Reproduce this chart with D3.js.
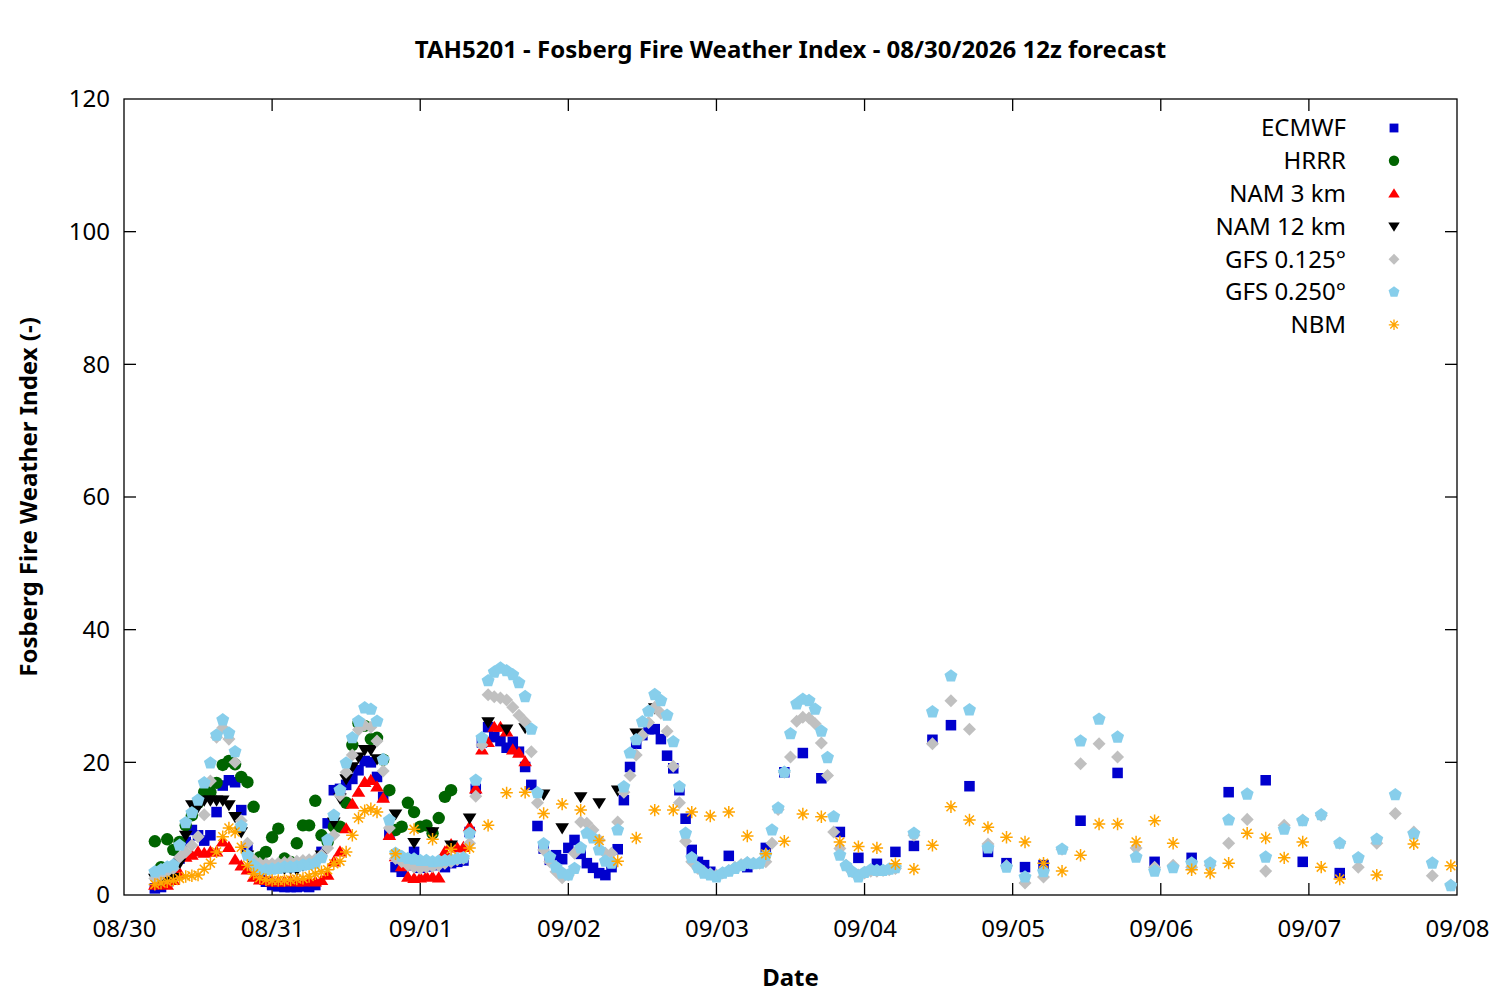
<!DOCTYPE html>
<html><head><meta charset="utf-8">
<script src="https://cdn.jsdelivr.net/npm/d3@7"></script>
<style>
body{margin:0;background:#fff}
text{font-family:"Noto Sans",sans-serif;fill:#000}
</style>
</head><body>
<svg id="chart" width="1500" height="1000"></svg>
<script>
// ---------------- DATA ----------------
const chartTitle = "TAH5201 - Fosberg Fire Weather Index - 08/30/2026 12z forecast";
const xAxisTitle = "Date";
const yAxisTitle = "Fosberg Fire Weather Index (-)";
const yTicks = [0, 20, 40, 60, 80, 100, 120];
const dayTicks = ["08/30","08/31","09/01","09/02","09/03","09/04","09/05","09/06","09/07","09/08"];
const modelNames = ["ECMWF","HRRR","NAM 3 km","NAM 12 km","GFS 0.125°","GFS 0.250°","NBM"];

// forecast valid hours, counted from 08/30 00 (local)
const ecmwfHours = [...d3.range(5, 96), ...d3.range(98, 150, 3), ...d3.range(155, 198, 6)];
const hrrrHours  = d3.range(5, 54);
const nam3Hours  = d3.range(5, 66);
const nam12Hours = [...d3.range(5, 42), ...d3.range(44, 87, 3)];
const gfsHours   = [...d3.range(5, 126), ...d3.range(128, 216, 3)];
const nbmHours   = [...d3.range(5, 42), ...d3.range(44, 198, 3), 203, 209, 215];

const ecmwfValues = [
 1.0,1.2,2.0,3.5,5.5,8.0,9.8,9.0,8.2,9.0,
 12.5,16.5,17.3,17.0,12.8,7.0,5.0,3.0,2.0,1.5,
 1.3,1.2,1.2,1.2,1.3,1.2,1.5,6.5,10.8,15.8,
 16.0,16.6,17.5,18.8,20.2,20.0,17.8,14.8,9.3,4.2,
 3.5,4.5,6.5,4.1,4.3,4.5,4.6,4.2,4.8,5.0,
 5.2,9.5,16.0,23.0,25.3,23.8,23.2,22.2,23.1,21.6,
 19.3,16.6,10.4,7.0,5.3,6.0,5.4,7.1,8.3,6.2,
 4.8,4.1,3.3,3.0,4.2,6.9,14.3,19.3,22.8,24.1,
 25.0,25.0,23.5,21.0,19.1,15.8,11.5,6.8,5.0,4.5,
 3.5,
 5.9,4.2,7.1,18.5,21.4,17.6,9.5,5.6,4.7,6.5,7.4,23.4,25.6,16.4,6.5,4.8,4.2,4.5,
 11.2,18.4,5.0,5.6,15.5,17.3,5.0,3.3
];
const hrrrValues = [
 8.1,4.2,8.4,6.8,8.0,10.5,12.0,13.9,15.5,15.5,
 16.9,19.6,20.2,19.7,17.8,17.0,13.3,5.7,6.5,8.7,
 10.0,5.5,5.0,7.8,10.5,10.5,14.2,9.0,8.0,10.3,
 10.3,13.9,22.6,25.9,25.5,23.5,23.7,20.4,15.8,9.8,
 10.3,13.9,12.5,10.3,10.5,9.3,11.6,14.8,15.8
];
const nam3Values = [
 1.5,1.8,1.5,2.2,3.3,5.7,6.0,6.5,6.3,6.5,
 6.5,8.0,7.2,5.3,4.4,3.8,2.7,2.3,2.2,2.0,
 2.0,2.0,2.1,2.0,2.0,2.2,2.0,2.2,3.0,5.0,
 6.5,10.0,13.7,15.5,17.0,17.3,16.3,14.6,9.0,5.8,
 4.3,2.7,2.5,2.6,2.8,2.7,2.6,6.5,7.6,7.1,
 7.2,10.3,16.0,21.9,23.0,25.3,25.3,24.6,21.9,21.4,
 20.1
];
const nam12Values = [
 2.5,2.2,2.8,2.6,4.8,9.0,13.6,13.3,14.3,14.3,
 14.3,14.3,13.6,11.8,9.5,6.0,4.5,4.4,4.4,4.3,
 4.2,4.0,4.0,3.8,4.5,4.8,5.0,6.0,8.0,11.0,
 14.6,17.5,19.3,20.8,21.9,21.9,20.5,
 12.2,7.9,9.5,7.5,11.6,26.1,25.0,25.2,15.2,10.1,14.8,13.9,15.8,24.4,28.2
];
const gfs0125Values = [
 2.5,3.0,3.5,4.0,5.7,6.5,7.5,8.8,12.1,17.2,
 23.8,25.2,23.5,20.0,11.2,7.8,5.3,4.8,4.7,4.7,
 4.8,4.9,5.0,5.1,5.2,5.3,5.4,6.0,7.1,9.0,
 15.0,18.5,21.1,24.9,25.6,25.3,23.2,18.7,10.1,5.5,
 5.0,4.5,4.2,4.0,4.2,4.3,4.5,4.8,5.0,5.3,
 5.5,7.8,14.9,22.6,30.2,29.9,29.7,29.4,28.3,27.1,
 26.1,21.6,13.9,6.8,5.0,3.5,2.6,3.0,6.3,11.0,
 10.8,9.8,8.3,6.3,6.3,11.0,15.5,18.0,21.1,24.1,
 26.0,28.3,27.4,24.7,19.4,13.9,8.1,5.0,4.0,3.5,
 3.2,3.0,3.3,3.7,4.2,4.6,4.9,4.8,4.8,5.0,
 7.8,12.9,18.5,20.8,26.2,26.8,26.7,25.8,22.9,18.0,
 9.5,7.0,4.5,3.5,3.0,3.3,3.6,3.6,3.7,3.8,
 4.0,
 9.0,22.8,29.3,25.0,7.7,4.4,1.8,2.7,6.9,19.8,
 22.8,20.8,7.1,4.2,4.5,4.2,4.5,7.8,11.4,3.6,
 10.5,11.3,12.0,7.8,4.2,7.8,12.3,9.5,2.9,1.5
];
const gfs0250Values = [
 3.5,3.8,4.2,4.5,7.5,10.9,12.4,14.3,16.9,19.9,
 24.1,26.4,24.4,21.6,10.4,6.0,4.5,3.8,3.8,3.9,
 4.0,4.2,4.2,4.3,4.5,4.6,4.8,5.6,8.3,12.0,
 15.8,19.9,23.7,26.2,28.2,28.0,26.2,20.4,11.3,6.3,
 5.8,5.5,5.4,5.2,5.2,5.0,5.1,5.2,5.3,5.5,
 5.6,9.3,17.3,23.7,32.3,33.6,34.2,33.8,33.2,32.0,
 29.9,25.0,15.4,7.7,5.7,4.2,3.3,3.0,4.0,7.1,
 9.3,8.6,6.8,5.1,4.8,9.8,16.3,21.4,23.4,26.1,
 27.7,30.2,29.3,27.1,23.1,16.3,9.3,5.6,4.1,3.3,
 3.0,2.7,3.3,3.6,4.0,4.4,4.8,4.7,4.8,6.0,
 9.8,13.1,18.5,24.3,28.8,29.5,29.3,28.0,24.7,20.7,
 11.8,6.0,4.4,3.5,2.7,3.4,3.8,3.7,3.7,3.9,
 4.1,
 9.3,27.6,33.0,27.9,7.1,4.2,2.7,3.5,6.9,23.2,
 26.5,23.8,5.7,3.6,4.1,4.8,4.8,11.3,15.2,5.7,
 9.9,11.2,12.1,7.8,5.6,8.4,15.1,9.2,4.8,1.4
];
const nbmValues = [
 1.6,1.8,2.0,2.2,2.5,2.8,2.9,3.0,3.9,4.8,
 6.5,8.8,10.1,9.5,7.2,4.5,3.2,2.6,2.3,2.2,
 2.2,2.2,2.3,2.4,2.5,2.8,3.2,3.5,3.8,4.7,
 5.1,6.5,9.0,11.6,12.7,13.0,12.5,
 6.2,9.9,8.4,6.9,7.1,10.5,15.4,15.5,12.3,13.7,
 12.8,8.2,5.1,8.6,12.8,12.8,12.5,11.9,12.5,8.9,
 6.2,8.1,12.2,11.8,8.0,7.3,7.1,4.7,3.9,7.5,
 13.3,11.3,10.2,8.7,8.0,4.8,3.6,6.0,10.7,10.7,
 8.0,11.2,7.8,3.8,3.3,4.8,9.3,8.6,5.6,8.0,
 4.2,2.4,
 3.0,7.7,4.4
];

// ---------------- DRAW ----------------
const svg = d3.select("#chart");
const M = {left:124, right:1457, top:99, bottom:895};
const t0 = Date.UTC(2026, 7, 30, 0);
const hourToDate = h => new Date(t0 + h * 3600e3);

const x = d3.scaleUtc().domain([hourToDate(0), hourToDate(216)]).range([M.left, M.right]);
const y = d3.scaleLinear().domain([0, 120]).range([M.bottom, M.top]);

const series = [
 {name: modelNames[0], hours: ecmwfHours, values: ecmwfValues, color: "#0000cd", shape: "square"},
 {name: modelNames[1], hours: hrrrHours,  values: hrrrValues,  color: "#006400", shape: "circle"},
 {name: modelNames[2], hours: nam3Hours,  values: nam3Values,  color: "#ff0000", shape: "triUp"},
 {name: modelNames[3], hours: nam12Hours, values: nam12Values, color: "#000000", shape: "triDown"},
 {name: modelNames[4], hours: gfsHours,   values: gfs0125Values, color: "#c0c0c0", shape: "diamond"},
 {name: modelNames[5], hours: gfsHours,   values: gfs0250Values, color: "#87ceeb", shape: "pentagon"},
 {name: modelNames[6], hours: nbmHours,   values: nbmValues,   color: "#ffa500", shape: "star"}
];

function shapePath(shape, s) {
  const r = s;
  switch (shape) {
    case "square": { const a = r*0.85; return `M${-a},${-a}H${a}V${a}H${-a}Z`; }
    case "circle": return `M${r},0A${r},${r} 0 1 1 ${-r},0A${r},${r} 0 1 1 ${r},0Z`;
    case "triUp": return `M0,${-r*1.05}L${r*1.1},${r*0.75}L${-r*1.1},${r*0.75}Z`;
    case "triDown": return `M0,${r*1.05}L${r*1.1},${-r*0.75}L${-r*1.1},${-r*0.75}Z`;
    case "diamond": { const a = r*1.05; return `M0,${-a}L${a},0L0,${a}L${-a},0Z`; }
    case "pentagon": {
      const pts = d3.range(5).map(k => { const ang = -Math.PI/2 + k*2*Math.PI/5; return [r*1.1*Math.cos(ang), r*1.1*Math.sin(ang)]; });
      return "M" + pts.map(p => p.join(",")).join("L") + "Z";
    }
    case "star": {
      const d = r*0.72;
      return `M${-r},0H${r}M0,${-r}V${r}M${-d},${-d}L${d},${d}M${-d},${d}L${d},${-d}`;
    }
  }
}

// axes frame
const g = svg.append("g");
g.append("rect").attr("x", M.left).attr("y", M.top)
 .attr("width", M.right - M.left).attr("height", M.bottom - M.top)
 .attr("fill", "none").attr("stroke", "#000").attr("stroke-width", 1.3);

const tickLen = 12;
const dayDates = d3.range(dayTicks.length).map(i => hourToDate(i*24));
const FS = "24px";

// y ticks (left and mirrored right)
yTicks.forEach(v => {
  if (v === 0 || v === 120) return;
  g.append("line").attr("x1", M.left).attr("x2", M.left + tickLen).attr("y1", y(v)).attr("y2", y(v)).attr("stroke", "#000").attr("stroke-width", 1.3);
  g.append("line").attr("x1", M.right).attr("x2", M.right - tickLen).attr("y1", y(v)).attr("y2", y(v)).attr("stroke", "#000").attr("stroke-width", 1.3);
});
const yAxis = d3.axisLeft(y).tickValues(yTicks).tickSize(0).tickPadding(14).tickFormat(d3.format("d"));
const ya = svg.append("g").attr("transform", `translate(${M.left},0)`).call(yAxis);
ya.select(".domain").remove();
ya.selectAll("text").style("font-size", FS).style("font-family", '"Noto Sans", sans-serif').attr("fill", "#000");

// x ticks (bottom and mirrored top)
dayDates.forEach((d, i) => {
  if (i === 0 || i === dayDates.length - 1) return;
  g.append("line").attr("x1", x(d)).attr("x2", x(d)).attr("y1", M.bottom).attr("y2", M.bottom - tickLen).attr("stroke", "#000").attr("stroke-width", 1.3);
  g.append("line").attr("x1", x(d)).attr("x2", x(d)).attr("y1", M.top).attr("y2", M.top + tickLen).attr("stroke", "#000").attr("stroke-width", 1.3);
});
const xAxis = d3.axisBottom(x).tickValues(dayDates).tickSize(0).tickPadding(25)
  .tickFormat((d, i) => dayTicks[i]);
const xa = svg.append("g").attr("transform", `translate(0,${M.bottom})`).call(xAxis);
xa.select(".domain").remove();
xa.selectAll("text").style("font-size", FS).style("font-family", '"Noto Sans", sans-serif').attr("fill", "#000");

// titles
svg.append("text").attr("x", 790.5).attr("y", 58).attr("text-anchor", "middle")
  .style("font-size", FS).style("font-weight", "bold").text(chartTitle);
svg.append("text").attr("x", 790.5).attr("y", 986).attr("text-anchor", "middle")
  .style("font-size", FS).style("font-weight", "bold").text(xAxisTitle);
svg.append("text").attr("transform", "translate(37,497) rotate(-90)").attr("text-anchor", "middle")
  .style("font-size", FS).style("font-weight", "bold").text(yAxisTitle);

// data points
const plot = svg.append("g");
series.forEach(s => {
  const pts = s.hours.map((h, i) => ({d: hourToDate(h), v: s.values[i]}));
  const sel = plot.append("g").selectAll("path").data(pts).enter().append("path")
    .attr("transform", p => `translate(${x(p.d)},${y(p.v)})`)
    .attr("d", shapePath(s.shape, 6.2));
  if (s.shape === "star") sel.attr("fill", "none").attr("stroke", s.color).attr("stroke-width", 1.5);
  else sel.attr("fill", s.color);
});

// legend
const leg = svg.append("g");
series.forEach((s, i) => {
  const yy = 128 + i * 32.8;
  leg.append("text").attr("x", 1346).attr("y", yy).attr("dy", "0.35em").attr("text-anchor", "end")
    .style("font-size", FS).text(s.name);
  const p = leg.append("path").attr("transform", `translate(1394,${yy})`).attr("d", shapePath(s.shape, 5.2));
  if (s.shape === "star") p.attr("fill", "none").attr("stroke", s.color).attr("stroke-width", 1.3);
  else p.attr("fill", s.color);
});
</script>
</body></html>
